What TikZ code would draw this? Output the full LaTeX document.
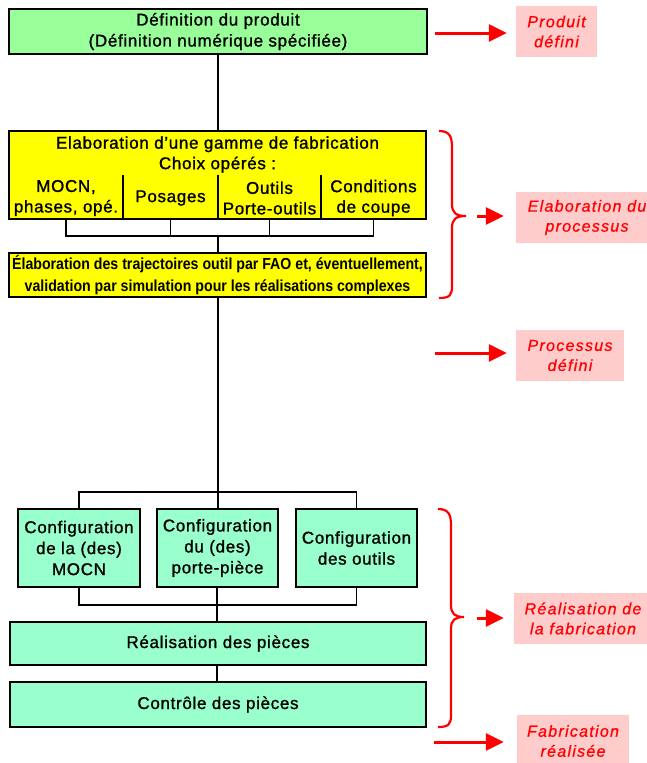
\documentclass[tikz,border=0pt]{standalone}
\usepackage{fontspec}
\usepackage{graphicx}
\setmainfont{Liberation Sans}
\newfontfamily\boxfont[LetterSpace=4, FakeBold=1.2]{Liberation Sans}
\newfontfamily\redfont[LetterSpace=8, FakeBold=0.8]{Liberation Sans}
\usetikzlibrary{arrows.meta}
\definecolor{defgreen}{HTML}{99FF99}
\definecolor{cfggreen}{HTML}{99FFCC}
\definecolor{yel}{HTML}{FFFF00}
\definecolor{pinkbg}{HTML}{FFCCCC}
\definecolor{redtxt}{HTML}{FF0000}
\begin{document}
\begin{tikzpicture}[x=1pt,y=-1pt,
  box/.style={draw=black, line width=1.6pt, inner sep=0pt, align=center,
    font=\boxfont\fontsize{17}{21}\selectfont},
  txt/.style={inner sep=0pt, align=center, font=\boxfont\fontsize{17}{20.5}\selectfont},
  lbl/.style={fill=pinkbg, inner sep=0pt, align=center, text=redtxt,
    font=\redfont\itshape\fontsize{16}{20}\selectfont},
  conn/.style={line width=1.6pt},
  redarrow/.style={draw=redtxt, line width=3pt, -{Triangle[length=18pt,width=17pt]}},
  redbrace/.style={draw=redtxt, line width=2.2pt}
]
\useasboundingbox (0,0) rectangle (647,763);

% boxes
\node[box, fill=defgreen, minimum width=418pt, minimum height=45pt] (def) at (218,31.5)
  {Définition du produit\\(Définition numérique spécifiée)};
\node[box, fill=yel, minimum width=417pt, minimum height=88pt] (yel1) at (217.5,175) {};
\node[txt] (title) at (217.5,154.5) {Elaboration d’une gamme de fabrication\\Choix opérés :};
\node[txt] (c1) at (66,198) {MOCN,\\phases, opé.};
\node[txt] (c2) at (170.5,198) {Posages};
\node[txt] (c3) at (269.5,198) {Outils\\Porte-outils};
\node[txt] (c4) at (373.5,198) {Conditions\\de coupe};
\draw[conn] (123,175) -- (123,219);
\draw[conn] (218,175) -- (218,219);
\draw[conn] (321,175) -- (321,219);

\node[box, fill=yel, minimum width=417pt, minimum height=44pt,
  font=\fontsize{16}{22}\selectfont\bfseries] (yel2) at (217.5,275)
  {\scalebox{0.885}[1]{Élaboration des trajectoires outil par FAO et, éventuellement,}\\
   \scalebox{0.885}[1]{validation par simulation pour les réalisations complexes}};

\node[box, fill=cfggreen, minimum width=122pt, minimum height=78pt] (cfg1) at (79,548)
  {Configuration\\de la (des)\\MOCN};
\node[box, fill=cfggreen, minimum width=121pt, minimum height=78pt] (cfg2) at (217.5,548)
  {Configuration\\du (des)\\porte-pièce};
\node[box, fill=cfggreen, minimum width=121pt, minimum height=78pt] (cfg3) at (356.5,548)
  {Configuration\\des outils};

\node[box, fill=cfggreen, minimum width=416pt, minimum height=43pt] (real) at (218,643.5)
  {Réalisation des pièces};
\node[box, fill=cfggreen, minimum width=416pt, minimum height=45pt] (ctrl) at (218,704.5)
  {Contrôle des pièces};

% connectors
\coordinate (bar1) at (218,236);
\coordinate (bar2) at (218,492);
\coordinate (bar3) at (217,605);
\draw[conn] (def.south) -- (def.south |- yel1.north);
\draw[conn] (c1 |- yel1.south) |- (bar1) -| (c4 |- yel1.south);
\draw[conn] (c2 |- yel1.south) -- (c2 |- bar1);
\draw[conn] (c3 |- yel1.south) -- (c3 |- bar1);
\draw[conn] (bar1) -- (bar1 |- yel2.north);
\draw[conn] (yel2.south -| bar2) -- (bar2);
\draw[conn] (cfg1.north) |- (bar2) -| (cfg3.north);
\draw[conn] (bar2) -- (bar2 |- cfg2.north);
\draw[conn] (cfg1.south) |- (bar3) -| (cfg3.south);
\draw[conn] (cfg2.south -| bar3) -- (bar3);
\draw[conn] (bar3) -- (bar3 |- real.north);
\draw[conn] (real.south -| bar3) -- (bar3 |- ctrl.north);

% labels
\node[lbl, minimum width=81pt, minimum height=51pt] (l1) at (556.5,31.5) {Produit\\défini};
\node[lbl, minimum width=142pt, minimum height=51pt] (l2) at (587,217.5) {Elaboration du\\processus};
\node[lbl, minimum width=108pt, minimum height=51pt] (l3) at (570,355.5) {Processus\\défini};
\node[lbl, minimum width=138pt, minimum height=51pt] (l4) at (583,618.5) {Réalisation de\\la fabrication};
\node[lbl, minimum width=112pt, minimum height=52pt] (l5) at (573,741) {Fabrication\\réalisée};

% braces
\draw[redbrace] (439,131) .. controls (450,131) and (452,137) .. (452,148)
  -- (452,204) .. controls (452,213) and (456,216) .. (466,216) coordinate (t1)
  .. controls (456,216) and (452,219) .. (452,228)
  -- (452,286) .. controls (452,295) and (450,298) .. (439,298);
\draw[redbrace] (438,509) .. controls (449,509) and (451,515) .. (451,526)
  -- (451,605) .. controls (451,614) and (455,617) .. (464,617) coordinate (t2)
  .. controls (455,617) and (451,620) .. (451,629)
  -- (451,715) .. controls (451,724) and (449,727) .. (438,727);

% arrows
\coordinate (a1) at (435,33);
\coordinate (a2) at (477,216);
\coordinate (a3) at (435,353);
\coordinate (a4) at (477,618);
\coordinate (a5) at (434,742);
\draw[redarrow] (a1) -- ([xshift=-9pt]l1.west |- a1);
\draw[redarrow] (a2) -- ([xshift=-12pt]l2.west |- a2);
\draw[redarrow] (a3) -- ([xshift=-9pt]l3.west |- a3);
\draw[redarrow] (a4) -- ([xshift=-10pt]l4.west |- a4);
\draw[redarrow] (a5) -- ([xshift=-13pt]l5.west |- a5);
\end{tikzpicture}
\end{document}
